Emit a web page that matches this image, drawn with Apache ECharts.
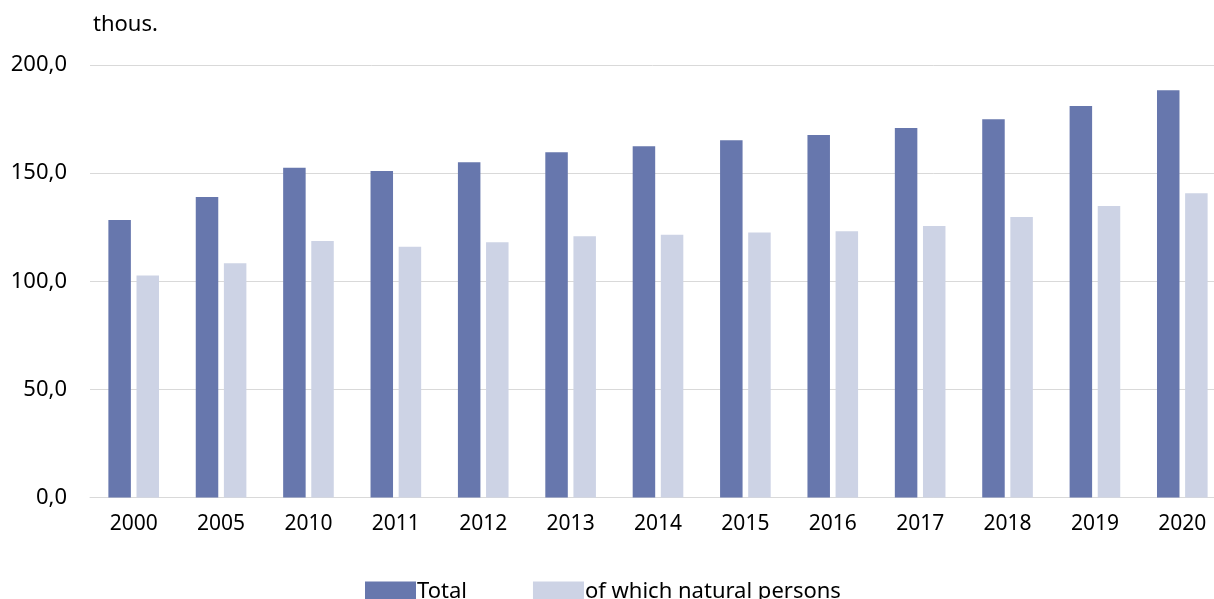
<!DOCTYPE html>
<html>
<head>
<meta charset="utf-8">
<script src="https://cdn.jsdelivr.net/npm/echarts@6/dist/echarts.min.js"></script>
<style>
  html, body { margin: 0; padding: 0; background: #fff; }
  #chart { width: 1214px; height: 599px; }
</style>
</head>
<body>
<div id="chart"></div>
<script>
const categories = ['2000','2005','2010','2011','2012','2013','2014','2015','2016','2017','2018','2019','2020'];
const totalValues = [128.3, 139.0, 152.5, 151.0, 155.0, 159.6, 162.4, 165.2, 167.6, 170.9, 174.9, 181.0, 188.3];
const naturalValues = [102.7, 108.3, 118.6, 116.0, 118.0, 120.8, 121.5, 122.5, 123.1, 125.5, 129.7, 134.8, 140.7];
const seriesNames = ['Total', 'of which natural persons'];
const unitLabel = 'thous.';

const FONT = '"Noto Sans", "Open Sans", sans-serif';
const chart = echarts.init(document.getElementById('chart'));
chart.setOption({
  animation: false,
  backgroundColor: '#ffffff',
  title: {
    text: unitLabel,
    left: 88, top: 9,
    textStyle: { fontFamily: FONT, fontSize: 22, fontWeight: 'normal', color: '#000' }
  },
  legend: {
    data: seriesNames,
    left: 360, top: 576,
    itemWidth: 51, itemHeight: 21, itemGap: 66,
    icon: 'rect',
    textStyle: { fontFamily: FONT, fontSize: 22, color: '#000', padding: [0, 0, 0, -4] }
  },
  grid: { left: 90, width: 1136, top: 65, bottom: 101.5, containLabel: false, outerBoundsMode: 'none' },
  xAxis: {
    type: 'category',
    data: categories,
    axisLine: { lineStyle: { color: '#d9d9d9', width: 1 } },
    axisTick: { show: false },
    axisLabel: { fontFamily: FONT, fontSize: 21, color: '#000', margin: 16 }
  },
  yAxis: {
    type: 'value',
    min: 0, max: 200, interval: 50,
    axisLine: { show: false },
    axisTick: { show: false },
    splitLine: { lineStyle: { color: '#d9d9d9', width: 1 } },
    axisLabel: {
      fontFamily: FONT, fontSize: 22, color: '#000', margin: 23,
      formatter: v => v.toFixed(1).replace('.', ',')
    }
  },
  series: [
    {
      name: seriesNames[0], type: 'bar', data: totalValues,
      barWidth: 22.5, barGap: '25%',
      itemStyle: { color: '#6777ad' }
    },
    {
      name: seriesNames[1], type: 'bar', data: naturalValues,
      barWidth: 22.5,
      itemStyle: { color: '#cdd3e5' }
    }
  ]
});
</script>
</body>
</html>
